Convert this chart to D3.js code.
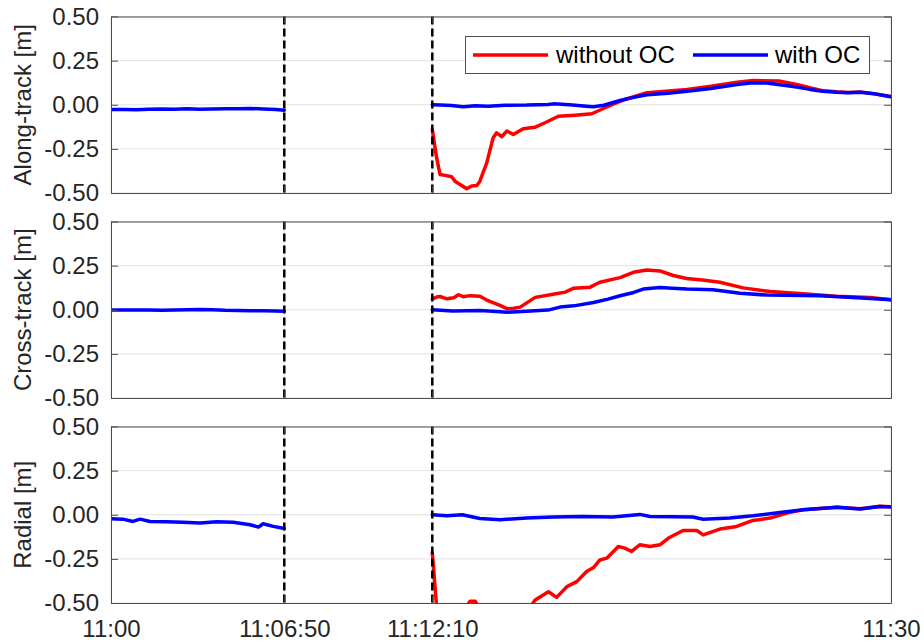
<!DOCTYPE html>
<html>
<head>
<meta charset="utf-8">
<script src="https://cdn.jsdelivr.net/npm/d3@7"></script>
<style>
  html, body { margin: 0; padding: 0; background: #ffffff; }
  svg { display: block; }
</style>
</head>
<body>
<script>
// ---------------- DATA ----------------
// Time axis: seconds after 11:00
const xTickSeconds = [0, 410, 730, 1800];
const xTickLabels = ["11:00", "11:06:50", "11:12:10", "11:30"];
const gapMarks = [410, 730];
const yTicks = [-0.5, -0.25, 0, 0.25, 0.5];
const yTickLabels = ["-0.50", "-0.25", "0.00", "0.25", "0.50"];
const panelLabels = ["Along-track [m]", "Cross-track [m]", "Radial [m]"];
const seriesNames = ["without OC", "with OC"];
const seriesColors = ["#ff0000", "#0000ff"];

// Along-track
const alongWithOC_1 = [[0,-0.027],[30,-0.027],[60,-0.028],[90,-0.026],[120,-0.024],[150,-0.025],[180,-0.023],[210,-0.025],[240,-0.024],[270,-0.022],[300,-0.023],[330,-0.021],[360,-0.024],[390,-0.027],[410,-0.031]];
const alongWithOC_2 = [[730,0.000],[750,-0.002],[775,-0.004],[802,-0.011],[830,-0.006],[860,-0.008],[900,-0.003],[950,-0.002],[1000,0.002],[1012,0.005],[1050,0.000],[1090,-0.008],[1106,-0.011],[1130,-0.003],[1168,0.024],[1200,0.042],[1231,0.057],[1280,0.065],[1324,0.077],[1380,0.092],[1441,0.115],[1478,0.125],[1510,0.123],[1541,0.113],[1580,0.100],[1611,0.087],[1640,0.077],[1674,0.071],[1700,0.068],[1728,0.071],[1760,0.062],[1800,0.045]];
const alongWithoutOC_2 = [[730,-0.14],[740,-0.30],[748,-0.395],[760,-0.40],[775,-0.408],[783,-0.433],[795,-0.452],[810,-0.476],[822,-0.46],[834,-0.457],[841,-0.433],[857,-0.329],[872,-0.187],[880,-0.159],[892,-0.181],[904,-0.149],[919,-0.168],[942,-0.136],[970,-0.127],[993,-0.102],[1024,-0.065],[1063,-0.059],[1102,-0.051],[1133,-0.017],[1179,0.030],[1231,0.068],[1324,0.087],[1380,0.105],[1441,0.128],[1478,0.138],[1541,0.134],[1580,0.115],[1611,0.096],[1640,0.080],[1674,0.073],[1700,0.070],[1728,0.072],[1760,0.063],[1800,0.046]];

// Cross-track
const crossWithOC_1 = [[0,-0.002],[30,-0.002],[60,-0.001],[90,-0.002],[120,-0.003],[150,-0.002],[180,0.000],[210,0.002],[240,0.000],[270,-0.003],[300,-0.004],[330,-0.005],[360,-0.005],[390,-0.007],[410,-0.008]];
const crossWithOC_2 = [[730,0.000],[778,-0.007],[841,-0.004],[880,-0.010],[904,-0.014],[950,-0.009],[1000,-0.002],[1028,0.015],[1060,0.022],[1106,0.041],[1140,0.060],[1168,0.079],[1200,0.098],[1222,0.117],[1261,0.126],[1290,0.122],[1324,0.117],[1385,0.113],[1448,0.094],[1511,0.083],[1634,0.079],[1711,0.070],[1800,0.056]];
const crossWithoutOC_2 = [[730,0.062],[740,0.072],[748,0.075],[764,0.062],[780,0.068],[791,0.085],[802,0.074],[818,0.080],[841,0.077],[857,0.055],[888,0.025],[904,0.006],[920,0.008],[935,0.015],[970,0.070],[1015,0.089],[1040,0.100],[1060,0.122],[1098,0.128],[1121,0.156],[1168,0.182],[1199,0.212],[1230,0.225],[1261,0.220],[1292,0.194],[1323,0.177],[1360,0.168],[1401,0.156],[1455,0.124],[1518,0.103],[1595,0.090],[1673,0.077],[1751,0.070],[1800,0.057]];

// Radial
const radialWithOC_1 = [[0,-0.023],[28,-0.025],[52,-0.038],[69,-0.025],[92,-0.038],[130,-0.040],[170,-0.043],[211,-0.047],[250,-0.040],[289,-0.042],[329,-0.057],[349,-0.070],[360,-0.051],[384,-0.066],[410,-0.078]];
const radialWithOC_2 = [[730,0.000],[764,-0.006],[800,0.000],[841,-0.021],[888,-0.028],[950,-0.018],[1012,-0.013],[1080,-0.010],[1151,-0.013],[1214,0.002],[1238,-0.010],[1338,-0.013],[1362,-0.025],[1424,-0.019],[1478,-0.006],[1541,0.013],[1595,0.028],[1674,0.042],[1728,0.032],[1774,0.047],[1800,0.044]];
const radialWithoutOC_2 = [[730,-0.214],[740,-0.52],[760,-0.60],[790,-0.58],[810,-0.52],[818,-0.49],[830,-0.49],[840,-0.53],[880,-0.60],[930,-0.56],[962,-0.51],[970,-0.483],[1001,-0.436],[1020,-0.468],[1044,-0.407],[1067,-0.379],[1090,-0.322],[1106,-0.299],[1121,-0.256],[1137,-0.246],[1164,-0.180],[1179,-0.189],[1195,-0.208],[1214,-0.170],[1238,-0.180],[1261,-0.170],[1281,-0.132],[1315,-0.089],[1347,-0.089],[1362,-0.114],[1401,-0.081],[1440,-0.066],[1478,-0.032],[1518,-0.019],[1557,0.010],[1595,0.028],[1674,0.043],[1728,0.034],[1774,0.048],[1800,0.046]];

const panels = [
  { label: panelLabels[0], without: [alongWithoutOC_2], with: [alongWithOC_1, alongWithOC_2] },
  { label: panelLabels[1], without: [crossWithoutOC_2], with: [crossWithOC_1, crossWithOC_2] },
  { label: panelLabels[2], without: [radialWithoutOC_2], with: [radialWithOC_1, radialWithOC_2] }
];

// ---------------- LAYOUT ----------------
const W = 924, H = 643;
const left = 111, right = 891;
const panelTops = [16.5, 221.5, 426.5];
const panelH = 176.5;
const FONT = "'Liberation Sans', Arial, Helvetica, sans-serif";
const textColor = "#262626";
const axisColor = "#4d4d4d";
const gridColor = "#e3e3e3";

const x = d3.scaleLinear()
  .domain(xTickSeconds)
  .range([111, 284.3, 432.3, 891]);

const svg = d3.select("body").append("svg")
  .attr("width", W).attr("height", H);

panels.forEach((p, i) => {
  const top = panelTops[i];
  const g = svg.append("g").attr("transform", `translate(0,${top})`);
  const y = d3.scaleLinear().domain([-0.5, 0.5]).range([panelH, 0]);

  // grid
  g.append("g").selectAll("line").data(yTicks).join("line")
    .attr("x1", left).attr("x2", right)
    .attr("y1", d => y(d)).attr("y2", d => y(d))
    .attr("stroke", gridColor).attr("stroke-width", 1);
  g.append("g").selectAll("line").data(xTickSeconds).join("line")
    .attr("x1", d => x(d)).attr("x2", d => x(d))
    .attr("y1", 0).attr("y2", panelH)
    .attr("stroke", gridColor).attr("stroke-width", 1);

  // clip
  const clipId = "clip" + i;
  g.append("clipPath").attr("id", clipId)
    .append("rect").attr("x", left).attr("y", 0)
    .attr("width", right - left).attr("height", panelH);

  const line = d3.line().x(d => x(d[0])).y(d => y(d[1]));
  const lines = g.append("g").attr("clip-path", `url(#${clipId})`);
  p.without.forEach(seg => {
    lines.append("path").datum(seg).attr("d", line)
      .attr("fill", "none").attr("stroke", seriesColors[0])
      .attr("stroke-width", 3.5).attr("stroke-linejoin", "round").attr("stroke-linecap", "round");
  });
  p.with.forEach(seg => {
    lines.append("path").datum(seg).attr("d", line)
      .attr("fill", "none").attr("stroke", seriesColors[1])
      .attr("stroke-width", 3.5).attr("stroke-linejoin", "round").attr("stroke-linecap", "round");
  });

  // dashed gap markers
  g.append("g").selectAll("line").data(gapMarks).join("line")
    .attr("x1", d => x(d)).attr("x2", d => x(d))
    .attr("y1", 0).attr("y2", panelH)
    .attr("stroke", "#000").attr("stroke-width", 2.5)
    .attr("stroke-dasharray", "8,4");

  // axes
  const styleAxis = sel => {
    sel.attr("font-family", FONT).attr("font-size", 24);
    sel.select(".domain").attr("stroke", axisColor);
    sel.selectAll(".tick line").attr("stroke", axisColor);
    sel.selectAll(".tick text").attr("fill", textColor);
  };
  const yl = g.append("g").attr("transform", `translate(${left},0)`)
    .call(d3.axisLeft(y).tickValues(yTicks).tickFormat((d, k) => yTickLabels[k])
      .tickSizeInner(-7).tickSizeOuter(0).tickPadding(12));
  styleAxis(yl);
  const yr = g.append("g").attr("transform", `translate(${right},0)`)
    .call(d3.axisRight(y).tickValues(yTicks).tickFormat("")
      .tickSizeInner(-7).tickSizeOuter(0));
  styleAxis(yr);
  const xt = g.append("g").attr("transform", `translate(0,0)`)
    .call(d3.axisTop(x).tickValues(xTickSeconds).tickFormat("")
      .tickSizeInner(-7).tickSizeOuter(0));
  styleAxis(xt);
  const xb = g.append("g").attr("transform", `translate(0,${panelH})`)
    .call(d3.axisBottom(x).tickValues(xTickSeconds)
      .tickFormat((d, k) => i === panels.length - 1 ? xTickLabels[k] : "")
      .tickSizeInner(-7).tickSizeOuter(0).tickPadding(17));
  styleAxis(xb);

  // y label
  g.append("text")
    .attr("transform", `translate(31,${panelH / 2}) rotate(-90)`)
    .attr("text-anchor", "middle")
    .attr("font-family", FONT).attr("font-size", 24)
    .attr("fill", textColor)
    .text(p.label);

  // legend
  if (i === 0) {
    const lg = svg.append("g");
    lg.append("rect").attr("x", 465.5).attr("y", 36.5)
      .attr("width", 404).attr("height", 37)
      .attr("fill", "#fff").attr("stroke", axisColor).attr("stroke-width", 1);
    const items = [
      { name: seriesNames[0], color: seriesColors[0], x0: 473, x1: 548, tx: 556 },
      { name: seriesNames[1], color: seriesColors[1], x0: 693, x1: 768, tx: 775 }
    ];
    items.forEach(it => {
      lg.append("line").attr("x1", it.x0).attr("x2", it.x1)
        .attr("y1", 55).attr("y2", 55)
        .attr("stroke", it.color).attr("stroke-width", 3.5);
      lg.append("text").attr("x", it.tx).attr("y", 55)
        .attr("dy", "0.35em")
        .attr("font-family", FONT).attr("font-size", 24)
        .attr("fill", "#000")
        .text(it.name);
    });
  }
});
</script>
</body>
</html>
